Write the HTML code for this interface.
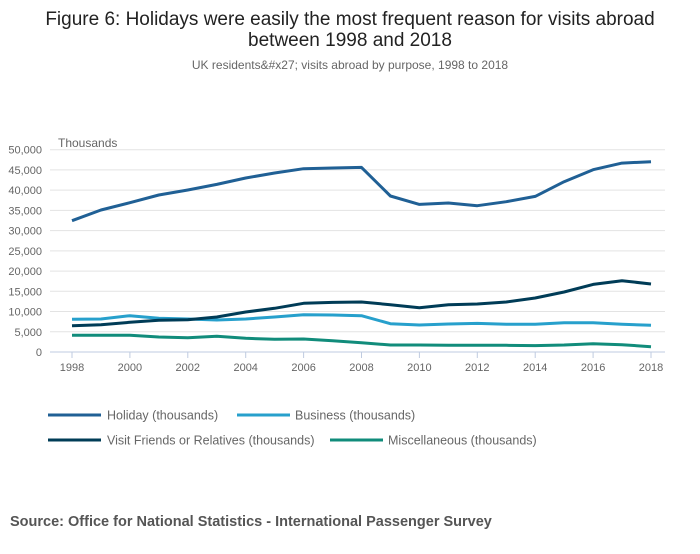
<!DOCTYPE html>
<html><head><meta charset="utf-8"><style>
body{margin:0;background:#fff;font-family:"Liberation Sans",sans-serif;}
svg text{font-family:"Liberation Sans",sans-serif;}
</style></head><body>
<svg width="700" height="549" id="c">
<text x="350" y="25" text-anchor="middle" font-size="19" fill="#222">Figure 6: Holidays were easily the most frequent reason for visits abroad</text>
<text x="350" y="46" text-anchor="middle" font-size="19" fill="#222">between 1998 and 2018</text>
<text x="350" y="69" text-anchor="middle" font-size="12" fill="#666">UK residents&amp;#x27; visits abroad by purpose, 1998 to 2018</text>
<text x="58" y="147" font-size="12" fill="#666">Thousands</text>
<g id="grid"></g><g id="series"></g><g id="legend"></g>
<text x="10" y="526" font-size="14.5" font-weight="bold" fill="#555">Source: Office for National Statistics - International Passenger Survey</text>
</svg>
<script>
const years=[1998,1999,2000,2001,2002,2003,2004,2005,2006,2007,2008,2009,2010,2011,2012,2013,2014,2015,2016,2017,2018];
const holiday=[32450,35090,36900,38800,40030,41430,43000,44230,45300,45470,45630,38550,36490,36820,36160,37150,38470,42090,45060,46700,47030];
const business=[8070,8150,8980,8320,8150,7910,8150,8650,9230,9140,8980,7000,6670,6920,7080,6840,6840,7250,7250,6840,6590];
const vfr=[6510,6750,7330,7830,7990,8650,9890,10790,12030,12270,12360,11700,10960,11700,11860,12360,13340,14830,16720,17630,16800];
const misc=[4120,4120,4120,3710,3540,3870,3380,3130,3210,2800,2310,1730,1730,1650,1650,1650,1570,1730,2060,1810,1320];
const yTicks=[0,5000,10000,15000,20000,25000,30000,35000,40000,45000,50000];
const xTicks=[1998,2000,2002,2004,2006,2008,2010,2012,2014,2016,2018];
const NS='http://www.w3.org/2000/svg';
const X=y=>72+(y-1998)*(651-72)/20;
const Y=v=>352-v*(352-149.7)/50000;
function mk(t,a,p){const e=document.createElementNS(NS,t);for(const k in a)e.setAttribute(k,a[k]);p.appendChild(e);return e;}
const g=document.getElementById('grid');
yTicks.forEach(v=>{
 const l=mk('line',{x1:50,x2:665,y1:Y(v),y2:Y(v),stroke:v===0?'#bfcbe0':'#e3e3e3','stroke-width':1},g);
 
 
 const t=mk('text',{x:42,y:Y(v)+4,'text-anchor':'end','font-size':11,fill:'#666'},g);
 t.textContent=v.toLocaleString('en-GB');
 
 
});
xTicks.forEach(y=>{
 const l=mk('line',{x1:X(y),x2:X(y),y1:352,y2:358,stroke:'#bfcbe0'},g);
 
 
 const t=mk('text',{x:X(y),y:371,'text-anchor':'middle','font-size':11,fill:'#666'},g);
 t.textContent=y;
 
 
});
const series=[['holiday',holiday,'#206095','Holiday (thousands)',48,415,107],['business',business,'#27a0cc','Business (thousands)',237,415,295],['vfr',vfr,'#003c57','Visit Friends or Relatives (thousands)',48,440,107],['misc',misc,'#118c7b','Miscellaneous (thousands)',330,440,388]];
const s=document.getElementById('series'),lg=document.getElementById('legend');
[series[3],series[1],series[2],series[0]].forEach(([n,d,c])=>{
 const p=mk('path',{d:d.map((v,i)=>(i?'L':'M')+X(years[i]).toFixed(1)+','+Y(v).toFixed(1)).join(''),fill:'none',stroke:c,'stroke-width':3,'stroke-linejoin':'round'},s);
 
 
});
series.forEach(([n,d,c,lab,x,y,tx])=>{
 const l=mk('line',{x1:x,x2:x+53,y1:y,y2:y,stroke:c,'stroke-width':3},lg);
 
 
 const t=mk('text',{x:tx,y:y+4.5,'font-size':12.5,fill:'#666'},lg);
 t.textContent=lab;
 
 
});
</script>
</body></html>
